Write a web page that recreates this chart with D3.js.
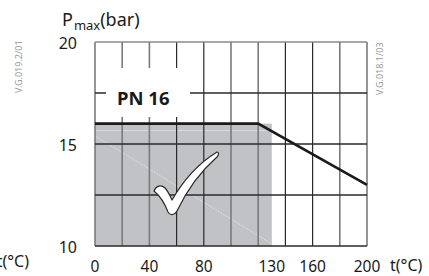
<!DOCTYPE html>
<html>
<head>
  <meta charset="utf-8">
  <title>PN 16 pressure / temperature</title>
  <style>
    body { margin: 0; background: #fff; }
    text { font-family: "Noto Sans", sans-serif; }
  </style>
</head>
<body>
  <div id="chart"></div>
  <script src="https://cdn.jsdelivr.net/npm/d3@7"></script>
  <script type="text/javascript">
    // data
    var tempTicks = [0, 40, 80, 130, 160, 200];
    var pressTicks = [10, 15, 20];
    var gridTemps = [0, 20, 40, 60, 80, 100, 120, 140, 160, 180, 200];
    var gridPress = [10, 12.5, 15, 17.5, 20];
    var limitTemp = [0, 120, 200];
    var limitPress = [16, 16, 13];
    var okTempMax = 130;
    var okPress = 16;

    var w = 429;
    var h = 276;

    var svg = d3.select("#chart")
      .append("svg")
      .attr("width", w)
      .attr("height", h);

    var x = d3.scaleLinear().domain([0, 200]).range([95, 367]);
    var y = d3.scaleLinear().domain([10, 20]).range([246, 42]);

    // shaded "ok" zone
    svg.append("rect")
      .attr("x", x(0))
      .attr("y", y(okPress))
      .attr("width", x(okTempMax) - x(0))
      .attr("height", y(10) - y(okPress))
      .attr("fill", "#c1c2c6");

    // light streaks in the shading
    svg.append("line")
      .attr("x1", x(0)).attr("y1", y(16) + 7)
      .attr("x2", x(okTempMax) - 6).attr("y2", y(16) + 7)
      .attr("stroke", "#dadbdd").attr("stroke-width", 1);
    svg.append("line")
      .attr("x1", x(0)).attr("y1", y(15.4))
      .attr("x2", x(okTempMax)).attr("y2", y(10.1))
      .attr("stroke", "#e2e3e5").attr("stroke-width", 0.8)
      .attr("stroke-dasharray", "2,1");

    // grid
    var grayCols = [0, 20, 40, 100, 120, 180, 200];
    svg.selectAll("line.vgrid")
      .data(gridTemps)
      .enter()
      .append("line")
      .attr("class", "vgrid")
      .attr("x1", function(d) { return x(d); })
      .attr("x2", function(d) { return x(d); })
      .attr("y1", y(20))
      .attr("y2", y(10))
      .attr("stroke", function(d) {
        return grayCols.indexOf(d) >= 0 ? "#7a7a7a" : "#2a2a2a";
      })
      .attr("stroke-width", function(d) {
        return grayCols.indexOf(d) >= 0 ? 1.6 : 1.2;
      });

    svg.selectAll("line.hgrid")
      .data(gridPress)
      .enter()
      .append("line")
      .attr("class", "hgrid")
      .attr("x1", x(0))
      .attr("x2", x(200))
      .attr("y1", function(d) { return y(d); })
      .attr("y2", function(d) { return y(d); })
      .attr("stroke", function(d) { return d == 20 ? "#8a8a8a" : "#2a2a2a"; })
      .attr("stroke-width", function(d) { return d == 20 ? 1.6 : 1.3; });

    // limit curve
    var line = d3.line()
      .x(function(d) { return x(d[0]); })
      .y(function(d) { return y(d[1]); });

    svg.append("path")
      .datum(d3.zip(limitTemp, limitPress))
      .attr("d", line)
      .attr("fill", "none")
      .attr("stroke", "#1a1a1a")
      .attr("stroke-width", 2.6);

    // PN 16 label on white box
    svg.append("rect")
      .attr("x", 106)
      .attr("y", 68)
      .attr("width", 84)
      .attr("height", 49)
      .attr("fill", "#fff");

    svg.append("text")
      .attr("x", 117)
      .attr("y", 105)
      .attr("font-size", 18.5)
      .attr("font-weight", "bold")
      .attr("fill", "#1a1a1a")
      .text("PN 16");

    // check mark
    svg.append("path")
      .attr("d", "M154,191 C156,186 161,184 165,188 C168,191 170,196 172,200 C183,181 199,163 217,152 C219,152 219,155 217,157 C201,171 187,190 177,211 C175,215 170,216 168,212 C165,204 160,196 154,191 Z")
      .attr("fill", "#fff")
      .attr("stroke", "#2a2a2a")
      .attr("stroke-width", 1.2)
      .attr("stroke-linejoin", "round");

    // axis labels
    svg.selectAll("text.ytick")
      .data(pressTicks)
      .enter()
      .append("text")
      .attr("class", "ytick")
      .attr("x", 77)
      .attr("y", function(d) { return y(d) + 7; })
      .attr("text-anchor", "end")
      .attr("font-size", 16)
      .attr("fill", "#1a1a1a")
      .text(function(d) { return d; });

    svg.selectAll("text.xtick")
      .data(tempTicks)
      .enter()
      .append("text")
      .attr("class", "xtick")
      .attr("x", function(d) { return x(d); })
      .attr("y", 272)
      .attr("text-anchor", "middle")
      .attr("font-size", 15.5)
      .attr("fill", "#1a1a1a")
      .text(function(d) { return d; });

    svg.append("text")
      .attr("x", 390)
      .attr("y", 271)
      .attr("font-size", 16)
      .attr("fill", "#1a1a1a")
      .text("t(°C)");

    svg.append("text")
      .attr("x", 29)
      .attr("y", 267)
      .attr("text-anchor", "end")
      .attr("font-size", 16)
      .attr("fill", "#1a1a1a")
      .text("t(°C)");

    var pt = svg.append("text")
      .attr("x", 62)
      .attr("y", 26)
      .attr("font-size", 18)
      .attr("fill", "#1a1a1a");
    pt.append("tspan").text("P");
    pt.append("tspan").attr("font-size", 13).attr("dy", 4).attr("dx", 1).text("max");
    pt.append("tspan").attr("dy", -4).text("(bar)");

    // drawing codes
    svg.append("text")
      .attr("transform", "translate(22,93) rotate(-90)")
      .attr("font-size", 9)
      .attr("fill", "#9a9a9a")
      .text("V.G.019.2/01");

    svg.append("text")
      .attr("transform", "translate(383,95) rotate(-90)")
      .attr("font-size", 9)
      .attr("fill", "#9a9a9a")
      .text("V.G.018.1/03");
  </script>
</body>
</html>
